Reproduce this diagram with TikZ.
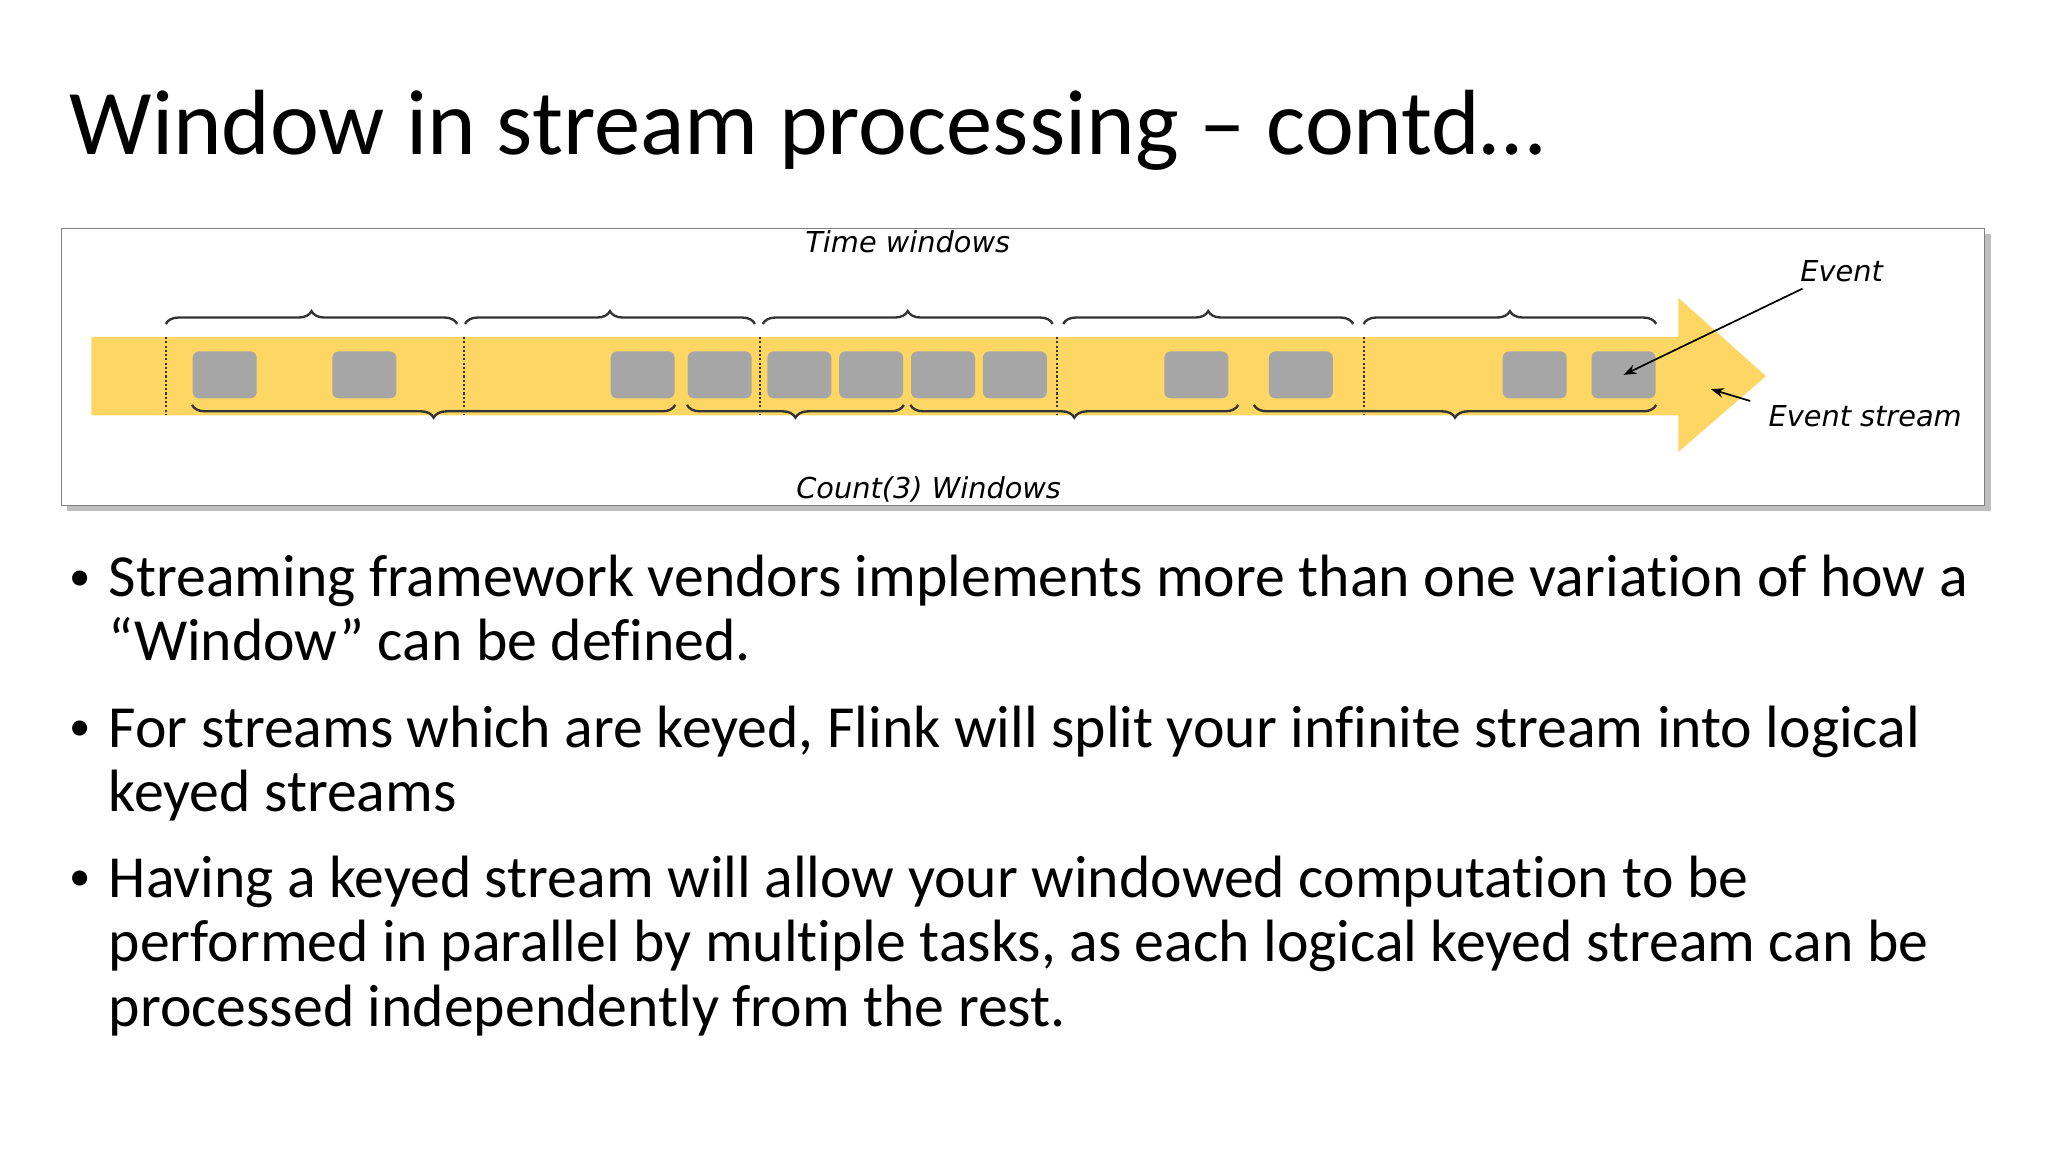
\documentclass[tikz,border=0pt]{standalone}
\usepackage{fontspec}
\setmainfont{Carlito}[Ligatures={NoCommon}]
\newfontfamily\diafont{DejaVu Sans}
\usetikzlibrary{decorations.pathreplacing,arrows.meta,shadows}
\definecolor{streamY}{HTML}{FDD663}
\definecolor{evG}{HTML}{A6A6A6}
\tikzset{
 ev/.style={fill=evG,rounded corners=3pt,minimum width=30pt,minimum height=22pt,inner sep=0pt},
 tbrace/.style={decorate,decoration={brace,amplitude=6pt},draw=black!80,line width=1.1pt},
 sep/.style={densely dotted,line width=1pt,black!80},
 lab/.style={font=\diafont\itshape\fontsize{13.5}{15}\selectfont,inner sep=0pt},
 body/.style={anchor=base west,font=\fontsize{28}{30}\selectfont,inner sep=0pt},
}
\begin{document}
\begin{tikzpicture}[x=0.61224pt,y=-0.61224pt]
\useasboundingbox (0,0) rectangle (1568,882);
\node[anchor=base west,inner sep=0pt,font=\fontsize{43.4}{50}\selectfont] (title) at (53,118) {Window in stream processing – contd…};
% frame
\fill[black!25] (51,179) rectangle (1524,391);
\draw[black!50,fill=white] (47,175) rectangle (1519,387);
% stream
\fill[streamY] (70,258) -- (1285,258) -- (1285,228) -- (1352,288) -- (1285,346) -- (1285,318) -- (70,318) -- cycle;
\foreach \x in {127,355,582,809,1044}{\draw[sep] (\x,258) -- (\x,318);}
\foreach \n/\x in {1/172,2/279,3/492,4/551,5/612,6/667,7/722,8/777,9/916,10/996,11/1175,12/1243}{
 \node[ev] (e\n) at (\x,287) {};}
% time braces
\foreach \a/\b in {127/350,356/578,584/806,814/1036,1044/1268}{
 \draw[tbrace] (\a,248) -- (\b,248);}
% count braces
\foreach \a/\b in {147/517,526/692,697/948,960/1268}{
 \draw[tbrace] (\b,310) -- (\a,310);}
\node[lab] (tw) at (695,185) {Time windows};
\node[lab] (cw) at (711,375) {Count(3) Windows};
\node[lab] (evl) at (1410,208) {Event};
\node[lab] (esl) at (1428,319) {Event stream};
\coordinate (evt) at (1380,221);
\coordinate (est) at (1340,307);
\coordinate (esh) at (1310,298);
\draw[-{Stealth[length=6pt]},line width=0.8pt] (evt) -- (e12.center);
\draw[-{Stealth[length=6pt]},line width=0.8pt] (est) -- (esh);
% bullets
\foreach \y in {452,567,682}{\node[anchor=base west,inner sep=0pt,font=\fontsize{20}{20}\selectfont] at (53,\y) {•};}
\node[body] (b1a) at (83,457) {Streaming framework vendors implements more than one variation of how a};
\node[body] (b1b) at (83,506) {“Window” can be defined.};
\node[body] (b2a) at (83,572) {For streams which are keyed, Flink will split your infinite stream into logical};
\node[body] (b2b) at (83,621) {keyed streams};
\node[body] (b3a) at (83,687) {Having a keyed stream will allow your windowed computation to be};
\node[body] (b3b) at (83,736) {performed in parallel by multiple tasks, as each logical keyed stream can be};
\node[body] (b3c) at (83,786) {processed independently from the rest.};
\end{tikzpicture}
\end{document}
